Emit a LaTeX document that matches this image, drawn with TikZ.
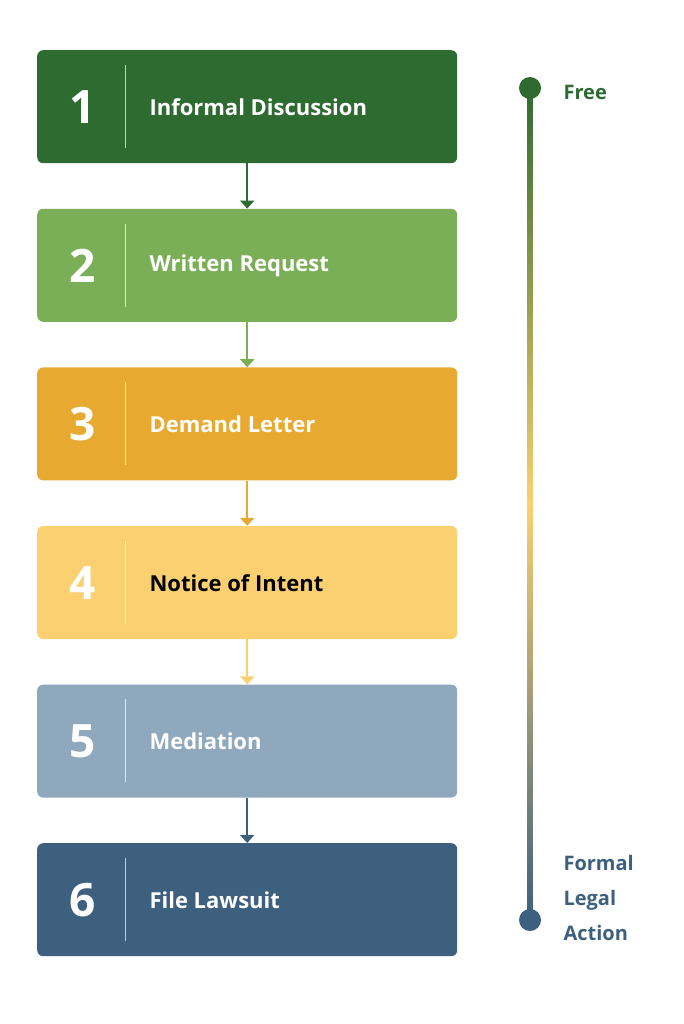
\documentclass[tikz,border=0pt]{standalone}
\usepackage{fontspec}
\setmainfont{Open Sans}
\usetikzlibrary{positioning,arrows.meta}
\definecolor{cA}{HTML}{2E6B30}
\definecolor{cB}{HTML}{7BAF57}
\definecolor{cC}{HTML}{E8A930}
\definecolor{cD}{HTML}{FBD070}
\definecolor{cE}{HTML}{8FA8BD}
\definecolor{cF}{HTML}{3E607F}
\begin{document}
\begin{tikzpicture}[x=1pt,y=-1pt,
    stepbox/.style={rectangle, rounded corners=6pt, minimum width=420pt, minimum height=113pt, anchor=north west, draw=none},
    num/.style={font=\bfseries\fontsize{46}{46}\selectfont, text=white},
    lbl/.style={font=\bfseries\fontsize{22}{24}\selectfont, anchor=west},
    link/.style={line width=2.5pt, -{Triangle[length=8pt,width=14pt]}}
    ]
\useasboundingbox (0,0) rectangle (683,1024);
\fill[white] (0,0) rectangle (683,1024);
% steps
\foreach \i/\c/\t/\tc in {1/cA/Informal Discussion/white, 2/cB/Written Request/white,
    3/cC/Demand Letter/white, 4/cD/Notice of Intent/black,
    5/cE/Mediation/white, 6/cF/File Lawsuit/white}{
  \pgfmathsetmacro{\ytop}{50+158.6*(\i-1)}
  \node[stepbox, fill=\c] (s\i) at (37,\ytop) {};
  \node[num] (n\i) at (83,\ytop+57) {\i};
  \draw[white!70!\c, line width=1pt] (125,\ytop+15) -- (125,\ytop+98);
  \node[lbl, text=\tc] (l\i) at (146,\ytop+57) {\t};
}
% connectors
\foreach \i/\j/\c in {1/2/cA, 2/3/cB, 3/4/cC, 4/5/cD, 5/6/cF}{
  \draw[link, \c] (s\i.south) -- (s\j.north);
}
% cost scale
\shade[top color=cA, bottom color=cF, middle color=cD] (527.5,88) rectangle (532.5,920);
\fill[cA] (530,88) circle (11pt);
\fill[cF] (530,920) circle (11pt);
\node[font=\bfseries\fontsize{20}{22}\selectfont, text=cA, anchor=west] (free) at (560,92) {Free};
\node[font=\bfseries\fontsize{20}{35}\selectfont, text=cF, anchor=west, align=left] (formal) at (560,898) {Formal\\Legal\\Action};
\end{tikzpicture}
\end{document}
